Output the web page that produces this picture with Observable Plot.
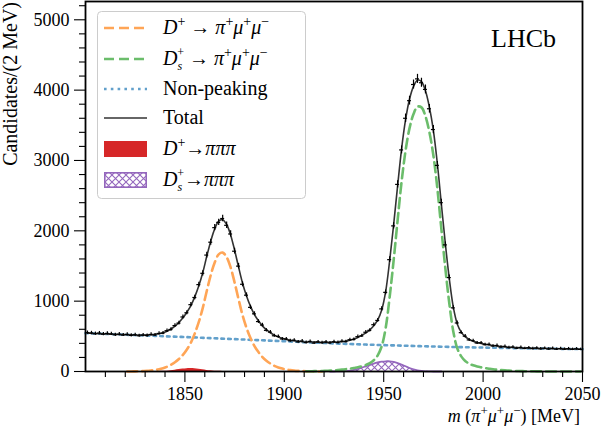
<!DOCTYPE html>
<html><head><meta charset="utf-8">
<script src="https://cdn.jsdelivr.net/npm/d3@7"></script>
<script src="https://cdn.jsdelivr.net/npm/@observablehq/plot@0.6"></script>
<style>html,body{margin:0;padding:0;background:#fff;} svg{display:block;}
#chart svg text, #chart svg tspan { font-family: "Liberation Serif", "DejaVu Serif", serif !important; }</style>
</head><body><div id="chart"></div>
<script>
// 2 MeV bin centres
const massBins = d3.range(1801, 2050, 2);
const counts = [552,548,537,546,531,541,534,522,530,519,
 527,513,522,508,516,511,527,519,541,545,
 580,597,653,688,775,835,950,1052,1235,1396,
 1655,1838,2045,2120,2175,2078,1955,1710,1498,1240,
 1085,912,820,710,660,585,560,508,498,463,
 462,437,445,421,433,412,428,404,421,409,
 420,406,424,412,430,425,452,455,495,506,
 558,585,665,726,890,1125,1590,2070,2660,3150,
 3600,3850,4080,4160,4105,4010,3735,3440,2930,2400,
 1800,1335,905,690,552,502,449,438,405,408,
 381,386,362,370,349,357,339,348,331,343,
 328,338,325,334,322,331,320,329,318,327,
 317,324,315,322,314];
const totalFit = [544,542,540,537,535,533,531,529,526,524,
 523,520,519,519,519,520,523,528,536,551,
 572,604,644,697,763,843,937,1065,1219,1408,
 1638,1853,2027,2137,2158,2090,1942,1725,1485,1255,
 1073,925,808,722,649,594,551,517,492,472,
 457,445,437,430,424,420,420,418,416,414,
 414,415,416,419,425,432,444,462,484,513,
 549,593,652,735,875,1139,1576,2087,2639,3166,
 3580,3874,4053,4142,4121,3990,3756,3424,2953,2381,
 1820,1319,918,676,560,495,456,431,413,400,
 388,378,369,361,355,350,345,341,338,336,
 334,333,331,329,328,327,326,325,323,322,
 322,321,320,319,318];
const dplusMass = d3.range(1821, 1920, 2);
const dplusFit = [1,1,2,4,6,9,15,22,32,47,
 67,96,131,177,237,314,410,543,705,905,
 1145,1370,1550,1665,1690,1625,1480,1265,1027,800,
 620,475,360,276,206,153,113,81,58,41,
 28,19,13,9,6,4,3,2,1,1];
const dsMass = d3.range(1911, 2050, 2);
const dsFit = [3,4,5,6,7,10,13,16,21,27,
 33,41,51,61,74,92,118,160,230,360,
 620,1060,1580,2150,2700,3140,3460,3660,3765,3755,
 3630,3400,3070,2600,2030,1470,970,570,330,215,
 150,112,88,71,59,49,40,32,25,20,
 16,12,9,7,6,4,4,3,2,2,
 1,1,1,0,0,0,0,0,0,0];
const bkgMass = [1800,1810,1820,1830,1840,1850,1860,1870,1880,1890,1900,1910,1920,1930,1940,1950,1960,1970,1980,1990,2000,2010,2020,2030,2040,2050];
const bkgFit = [545,534,523,512,501,490,478,466,454,442,430,417,405,394,384,375,367,359,352,346,340,335,330,326,322,318];
const dplusPiMass = d3.range(1835, 1876, 2);
const dplusPi = [0,1,2,5,10,18,27,35,40,41,38,32,24,16,9,5,2,1,0,0,0];
const dsPiMass = d3.range(1923, 1980, 2);
const dsPi = [0,0,1,3,6,12,22,36,54,74,94,113,128,139,145,144,136,120,98,74,50,30,16,8,3,1,0,0,0];

const xTicks = [1850,1900,1950,2000,2050];
const xMinor = [1810,1820,1830,1840,1860,1870,1880,1890,1910,1920,1930,1940,1960,1970,1980,1990,2010,2020,2030,2040];
const yTicks = [0,1000,2000,3000,4000,5000];
const yMinor = [200,400,600,800,1200,1400,1600,1800,2200,2400,2600,2800,3200,3400,3600,3800,4200,4400,4600,4800,5200];

const zip = (xs, ys) => xs.map((x, i) => ({x, y: ys[i]}));
const points = massBins.map((m, i) => ({m, n: counts[i], e: Math.sqrt(counts[i])}));

const C = {orange: "#ffa556", green: "#6bbd6b", blue: "#62a0cb", total: "#333333", red: "#d62728", purple: "#9467bd"};
const curve = "catmull-rom";
const FONT = "Liberation Serif, DejaVu Serif, serif";
const axisText = {fontFamily: FONT, fontSize: 18, fontVariant: "normal"};

const chart = Plot.plot({
  width: 602, height: 434,
  marginLeft: 85, marginRight: 20, marginTop: 1, marginBottom: 63,
  x: {domain: [1800, 2050]},
  y: {domain: [0, 5260]},
  style: {fontFamily: FONT, fontSize: "18px", background: "#fff", color: "#000", overflow: "visible"},
  marks: [
    Plot.areaY(zip(dplusPiMass, dplusPi), {x: "x", y: "y", fill: C.red, curve}),
    Plot.areaY(zip(dsPiMass, dsPi), {x: "x", y: "y", fill: "url(#hatch)", curve}),
    Plot.line(zip(dsPiMass, dsPi), {x: "x", y: "y", stroke: C.purple, strokeWidth: 1.8, curve}),
    Plot.line(zip(bkgMass, bkgFit), {x: "x", y: "y", stroke: C.blue, strokeWidth: 2.6, strokeDasharray: "2.6,4.2", curve}),
    Plot.line(zip(dplusMass, dplusFit), {x: "x", y: "y", stroke: C.orange, strokeWidth: 2.6, strokeDasharray: "10,5", curve}),
    Plot.line(zip(dsMass, dsFit), {x: "x", y: "y", stroke: C.green, strokeWidth: 2.6, strokeDasharray: "10,5", curve}),
    Plot.line(zip(massBins, totalFit), {x: "x", y: "y", stroke: C.total, strokeWidth: 1.6, curve}),
    Plot.ruleX(points, {x: "m", y1: d => d.n - d.e, y2: d => d.n + d.e, stroke: "#000", strokeWidth: 1.2}),
    Plot.ruleY(points, {y: "n", x1: d => d.m - 1, x2: d => d.m + 1, stroke: "#000", strokeWidth: 1.2}),
    Plot.axisY({ticks: yMinor, tickSize: 6, tickFormat: () => "", label: null, strokeWidth: 1.1}),
    Plot.axisY({ticks: yTicks, tickSize: 11, tickPadding: 5, tickFormat: d => String(d), label: null, strokeWidth: 1.1, ...axisText}),
    Plot.axisX({ticks: xMinor, tickSize: 6, tickFormat: () => "", label: null, strokeWidth: 1.1}),
    Plot.axisX({ticks: xTicks, tickSize: 11, tickPadding: 5, tickFormat: d => String(d), label: null, strokeWidth: 1.1, ...axisText}),
    Plot.frame({stroke: "#000", strokeWidth: 1.8})
  ]
});
document.getElementById("chart").appendChild(chart);

const svg = d3.select(chart);
svg.selectAll("text").attr("font-family", FONT);
const defs = svg.insert("defs", ":first-child");
const pat = defs.append("pattern").attr("id", "hatch").attr("patternUnits", "userSpaceOnUse").attr("width", 7).attr("height", 7);
pat.append("rect").attr("width", 7).attr("height", 7).attr("fill", "#fff");
pat.append("path").attr("d", "M0,0L7,7M7,0L0,7").attr("stroke", C.purple).attr("stroke-width", 1.1);

function rich(parent, x, y, parts, opts = {}) {
  const size = opts.size || 20;
  const t = parent.append("text").attr("x", x).attr("y", y)
    .attr("font-size", size).attr("font-family", FONT)
    .attr("text-anchor", opts.anchor || "start").attr("fill", "#000");
  if (opts.transform) t.attr("transform", opts.transform);
  let cur = 0;
  for (const p of parts) {
    let target = p.sup ? -Math.round(size * 0.38) : p.sub ? Math.round(size * 0.22) : 0;
    if (p.shift !== undefined) target = p.shift;
    const ts = t.append("tspan").text(p.t);
    if (target - cur) ts.attr("dy", target - cur);
    cur = target;
    if (p.sup || p.sub) ts.attr("font-size", p.size || Math.round(size * 0.72));
    if (p.i) ts.attr("font-style", "italic");
    if (p.dx) ts.attr("dx", p.dx);
  }
  return t;
}
const pimumu = [{t: "π", i: 1}, {t: "+", sup: 1}, {t: "μ", i: 1}, {t: "+", sup: 1}, {t: "μ", i: 1}, {t: "−", sup: 1}];
const Dp = [{t: "D", i: 1}, {t: "+", sup: 1}];
const Ds = [{t: "D", i: 1}, {t: "s", sub: 1, i: 1, size: 12, shift: 5}, {t: "+", sup: 1, size: 12, shift: -9, dx: -5}];
const ppp = [{t: "→"}, {t: "πππ", i: 1}];

// Legend
const lg = svg.append("g");
lg.append("rect").attr("x", 97.5).attr("y", 11.5).attr("width", 208).attr("height", 187).attr("rx", 4)
  .attr("fill", "#fff").attr("fill-opacity", 0.8).attr("stroke", "#cccccc").attr("stroke-width", 1);
const rows = [28, 59, 89, 118, 149, 180];
const hx1 = 104, hx2 = 147, tx = 163;
lg.append("line").attr("x1", hx1).attr("x2", hx2).attr("y1", rows[0]).attr("y2", rows[0]).attr("stroke", C.orange).attr("stroke-width", 2.6).attr("stroke-dasharray", "10,5");
lg.append("line").attr("x1", hx1).attr("x2", hx2).attr("y1", rows[1]).attr("y2", rows[1]).attr("stroke", C.green).attr("stroke-width", 2.6).attr("stroke-dasharray", "10,5");
lg.append("line").attr("x1", hx1).attr("x2", hx2).attr("y1", rows[2]).attr("y2", rows[2]).attr("stroke", C.blue).attr("stroke-width", 2.6).attr("stroke-dasharray", "2.6,4.2");
lg.append("line").attr("x1", hx1).attr("x2", hx2).attr("y1", rows[3]).attr("y2", rows[3]).attr("stroke", C.total).attr("stroke-width", 1.6);
lg.append("rect").attr("x", hx1).attr("y", rows[4] - 8).attr("width", hx2 - hx1).attr("height", 16).attr("fill", C.red);
lg.append("rect").attr("x", hx1 + 0.8).attr("y", rows[5] - 7.2).attr("width", hx2 - hx1 - 1.6).attr("height", 14.4).attr("fill", "url(#hatch)").attr("stroke", C.purple).attr("stroke-width", 1.6);
rich(lg, tx, rows[0] + 6, [...Dp, {t: " → "}, ...pimumu]);
rich(lg, tx, rows[1] + 6, [...Ds, {t: " → "}, ...pimumu]);
rich(lg, tx, rows[2] + 6, [{t: "Non-peaking"}]);
rich(lg, tx, rows[3] + 6, [{t: "Total"}]);
rich(lg, tx, rows[4] + 6, [...Dp, ...ppp]);
rich(lg, tx, rows[5] + 6, [...Ds, ...ppp]);

// LHCb label
rich(svg, 556, 47, [{t: "LHCb"}], {size: 26, anchor: "end"});
// Axis titles
rich(svg, 580, 422, [{t: "m", i: 1}, {t: " ("}, ...pimumu, {t: ") [MeV]"}], {anchor: "end", size: 18});
rich(svg, 0, 0, [{t: "Candidates/(2 MeV)"}], {anchor: "end", size: 20, transform: "translate(16.5,2) rotate(-90)"});
</script>
</body></html>
